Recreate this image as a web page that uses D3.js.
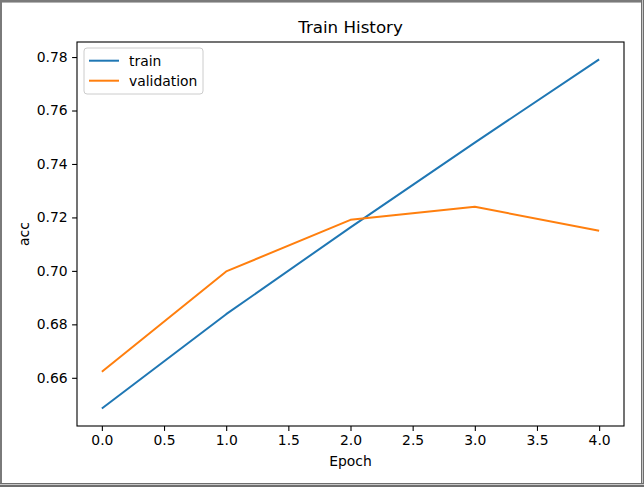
<!DOCTYPE html>
<html>
<head>
<script src="https://d3js.org/d3.v7.min.js"></script>
  <style type="text/css">
    body {
      margin: 0;
      background: #fff;
      font-family: 'DejaVu Sans', sans-serif;
    }
    svg { display: block; }
    .tick text { font-size: 13.9px; fill: #000; font-family: 'DejaVu Sans', sans-serif; }
  </style>
</head>
<body>
  <script type="text/javascript">

  // values
  var epochs = [0, 1, 2, 3, 4];
  var trainAcc = [0.6485, 0.6838, 0.7163, 0.7480, 0.7791];
  var valAcc = [0.6623, 0.6998, 0.7191, 0.7240, 0.7150];
  var xTicks = [0, 0.5, 1, 1.5, 2, 2.5, 3, 3.5, 4];
  var yTicks = [0.66, 0.68, 0.70, 0.72, 0.74, 0.76, 0.78];
  var seriesNames = ["train", "validation"];
  var colors = ["#1f77b4", "#ff7f0e"];

  var W = 644, H = 487;
  var margin = {top: 42, bottom: 61, left: 77, right: 20};
  var width = W - margin.left - margin.right;
  var height = H - margin.top - margin.bottom;

  var root = d3.select("body").append("svg")
      .attr("width", W)
      .attr("height", H);

  // window frame round the figure
  root.append("rect").attr("x", 0).attr("y", 0).attr("width", W).attr("height", 2).attr("fill", "#7a7a7a");
  root.append("rect").attr("x", 0).attr("y", 2).attr("width", W).attr("height", 1).attr("fill", "#b4b4b4");
  root.append("rect").attr("x", 0).attr("y", 0).attr("width", 2).attr("height", H).attr("fill", "#7a7a7a");
  root.append("rect").attr("x", W - 3).attr("y", 0).attr("width", 1).attr("height", H).attr("fill", "#6e6e6e");
  root.append("rect").attr("x", W - 2).attr("y", 0).attr("width", 1).attr("height", H).attr("fill", "#c8c8c8");
  root.append("rect").attr("x", W - 1).attr("y", 0).attr("width", 1).attr("height", H).attr("fill", "#6e6e6e");
  root.append("rect").attr("x", 0).attr("y", H - 4).attr("width", W).attr("height", 1).attr("fill", "#6e6e6e");
  root.append("rect").attr("x", 0).attr("y", H - 3).attr("width", W).attr("height", 1).attr("fill", "#c8c8c8");
  root.append("rect").attr("x", 0).attr("y", H - 2).attr("width", W).attr("height", 2).attr("fill", "#6e6e6e");

  var svg = root.append("g")
      .attr("transform", "translate(" + margin.left + "," + margin.top + ")");

  // matplotlib style 5% margins
  var xPad = (d3.max(epochs) - d3.min(epochs)) * 0.05;
  var allY = trainAcc.concat(valAcc);
  var yPad = (d3.max(allY) - d3.min(allY)) * 0.05;

  var x = d3.scaleLinear()
      .domain([d3.min(epochs) - xPad, d3.max(epochs) + xPad])
      .range([0, width]);
  var y = d3.scaleLinear()
      .domain([d3.min(allY) - yPad, d3.max(allY) + yPad])
      .range([height, 0]);

  var xAxis = d3.axisBottom(x).tickValues(xTicks).tickFormat(d3.format(".1f"))
      .tickSizeInner(4.9).tickSizeOuter(0).tickPadding(4.5);
  var yAxis = d3.axisLeft(y).tickValues(yTicks).tickFormat(d3.format(".2f"))
      .tickSizeInner(4.9).tickSizeOuter(0).tickPadding(4.5);

  var gx = svg.append("g").attr("transform", "translate(0," + height + ")").call(xAxis);
  var gy = svg.append("g").call(yAxis);
  gx.select(".domain").remove();
  gy.select(".domain").remove();
  svg.selectAll(".tick line").attr("stroke", "#000").attr("stroke-width", 1.1);

  // lines
  var line = d3.line()
      .x(function(d, i) { return x(epochs[i]); })
      .y(function(d) { return y(d); });

  [trainAcc, valAcc].forEach(function(s, k) {
    svg.append("path")
      .datum(s)
      .attr("fill", "none")
      .attr("stroke", colors[k])
      .attr("stroke-width", 2)
      .attr("stroke-linejoin", "round")
      .attr("d", line);
  });

  // axes frame
  svg.append("rect")
      .attr("x", 0).attr("y", 0)
      .attr("width", width).attr("height", height)
      .attr("fill", "none")
      .attr("stroke", "#000")
      .attr("stroke-width", 1.1);

  // title and labels
  svg.append("text")
      .attr("x", width / 2).attr("y", -9)
      .attr("text-anchor", "middle")
      .attr("font-size", "16.7px")
      .text("Train History");

  svg.append("text")
      .attr("x", width / 2).attr("y", height + 40)
      .attr("text-anchor", "middle")
      .attr("font-size", "13.9px")
      .text("Epoch");

  svg.append("text")
      .attr("transform", "translate(" + (28.5 - margin.left) + "," + (height / 2) + ") rotate(-90)")
      .attr("text-anchor", "middle")
      .attr("font-size", "13.9px")
      .text("acc");

  // legend
  var legend = svg.append("g").attr("transform", "translate(7,6)");
  legend.append("rect")
      .attr("x", 0).attr("y", 0)
      .attr("width", 119).attr("height", 46)
      .attr("rx", 3)
      .attr("fill", "#fff").attr("fill-opacity", 0.8)
      .attr("stroke", "#ccc");

  var item = legend.selectAll(".item")
      .data(seriesNames)
      .enter()
      .append("g").attr("class", "item")
      .attr("transform", function(d, i) { return "translate(0," + (12.7 + i * 20) + ")"; });

  item.append("line")
      .attr("x1", 5).attr("x2", 35)
      .attr("stroke", function(d, i) { return colors[i]; })
      .attr("stroke-width", 2);

  item.append("text")
      .attr("x", 45).attr("y", 5)
      .attr("font-size", "13.9px")
      .text(function(d) { return d; });

  </script>
</body>
</html>
